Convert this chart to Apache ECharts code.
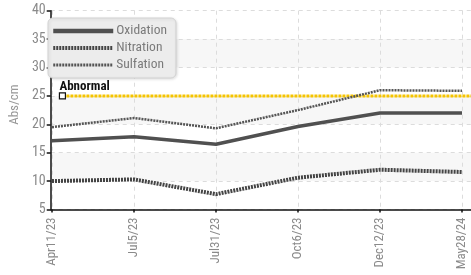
<!DOCTYPE html>
<html><head><meta charset="utf-8">
<script src="https://cdn.jsdelivr.net/npm/echarts@6/dist/echarts.min.js"></script>
<style>html,body{margin:0;padding:0;background:#fff}#c{width:471px;height:275px}</style>
</head><body><div id="c"></div>
<script>
const categories = ['Apr11/23','Jul5/23','Jul31/23','Oct6/23','Dec12/23','May28/24'];
const oxidation = [17.1, 17.8, 16.5, 19.6, 22.0, 22.0];
const nitration = [10.0, 10.3, 7.7, 10.6, 12.0, 11.6];
const sulfation = [19.5, 21.1, 19.3, 22.5, 26.0, 25.9];
const abnormal = 25;
const yTicks = [5, 40, 5]; // min, max, interval

const FONT = '"Roboto Condensed","Liberation Sans Narrow",sans-serif';
const chart = echarts.init(document.getElementById('c'), null, {renderer:'canvas'});
const gTop = 10.7, gBottom = 275 - 209.5;
const abStart = (52 - 40) / 431;
chart.setOption({
  animation: false,
  grid: [
    {left: 40, right: 0, top: gTop, bottom: gBottom},
    {left: 52, right: 9, top: gTop, bottom: gBottom}
  ],
  legend: {
    left: 48, top: 18, orient: 'vertical', z: 10,
    padding: [5, 9, 5, 3], itemGap: 1, itemWidth: 60, itemHeight: 16,
    backgroundColor: '#ececec', borderColor: '#d2d2d2', borderWidth: 1, borderRadius: 5,
    shadowColor: 'rgba(0,0,0,0.12)', shadowBlur: 3, shadowOffsetX: 1, shadowOffsetY: 1,
    itemStyle: {opacity: 0},
    textStyle: {color: '#7a7a7a', fontFamily: FONT, fontSize: 13.5, lineHeight: 16, padding: [0,0,0,-2]},
    data: [
      {name: 'Oxidation', lineStyle: {width: 4.5}},
      {name: 'Nitration', lineStyle: {width: 4}},
      {name: 'Sulfation', lineStyle: {width: 3}}
    ]
  },
  xAxis: [
    {gridIndex: 0, type: 'value', min: 0, max: 1,
     axisLine: {show: true, onZero: false, lineStyle: {color: '#111', width: 1.5}},
     axisTick: {show: false}, axisLabel: {show: false}, splitLine: {show: false}},
    {gridIndex: 1, type: 'category', data: categories, boundaryGap: false,
     axisLine: {show: false},
     axisTick: {show: true, alignWithLabel: true, length: 3, lineStyle: {color: '#111', width: 1.5}},
     axisLabel: {rotate: 90, color: '#8a8a8a', fontFamily: FONT, fontSize: 13, margin: 8},
     splitLine: {show: true, lineStyle: {color: '#dcdcdc', type: [4, 4], width: 1}}}
  ],
  yAxis: [
    {gridIndex: 0, type: 'value', min: yTicks[0], max: yTicks[1], interval: yTicks[2],
     name: 'Abs/cm', nameLocation: 'middle', nameGap: 22,
     nameTextStyle: {color: '#999', fontFamily: FONT, fontSize: 13, padding: [0, 0, 0, 11]},
     axisLine: {show: true, lineStyle: {color: '#111', width: 1.5}},
     axisTick: {show: true, length: 4, lineStyle: {color: '#111', width: 1.5}},
     axisLabel: {color: '#8a8a8a', fontFamily: FONT, fontSize: 14, margin: 5},
     splitLine: {show: true, lineStyle: {color: '#dcdcdc', type: [4, 4], width: 1}},
     splitArea: {show: true, areaStyle: {color: ['rgba(255,255,255,0)', '#f7f7f7']}}},
    {gridIndex: 1, type: 'value', min: yTicks[0], max: yTicks[1], interval: yTicks[2], show: false}
  ],
  series: [
    {name: 'Abnormal', type: 'line', xAxisIndex: 0, yAxisIndex: 0,
     data: [
       {value: [abStart, abnormal], symbol: 'rect', symbolSize: 6,
        itemStyle: {color: '#fff', borderColor: '#111', borderWidth: 1.2},
        label: {show: true, formatter: 'Abnormal', position: 'top', align: 'left', distance: 2, offset: [-3, 3],
                color: '#111', fontWeight: 'bold', fontFamily: FONT, fontSize: 13}},
       {value: [1, abnormal], symbol: 'none'}
     ],
     lineStyle: {color: '#f5c400', width: 3, type: [3, 1]}, z: 1, silent: true},
    {name: 'Oxidation', type: 'line', xAxisIndex: 1, yAxisIndex: 1, data: oxidation,
     symbol: 'none', lineStyle: {color: '#505050', width: 3.5}, itemStyle: {color: '#505050'}, z: 3},
    {name: 'Nitration', type: 'line', xAxisIndex: 1, yAxisIndex: 1, data: nitration,
     symbol: 'none', lineStyle: {color: '#444', width: 4, type: [2, 1]}, itemStyle: {color: '#444'}, z: 3},
    {name: 'Sulfation', type: 'line', xAxisIndex: 1, yAxisIndex: 1, data: sulfation,
     symbol: 'none', lineStyle: {color: '#555', width: 2.5, type: [2, 1]}, itemStyle: {color: '#555'}, z: 3}
  ]
});
</script></body></html>
